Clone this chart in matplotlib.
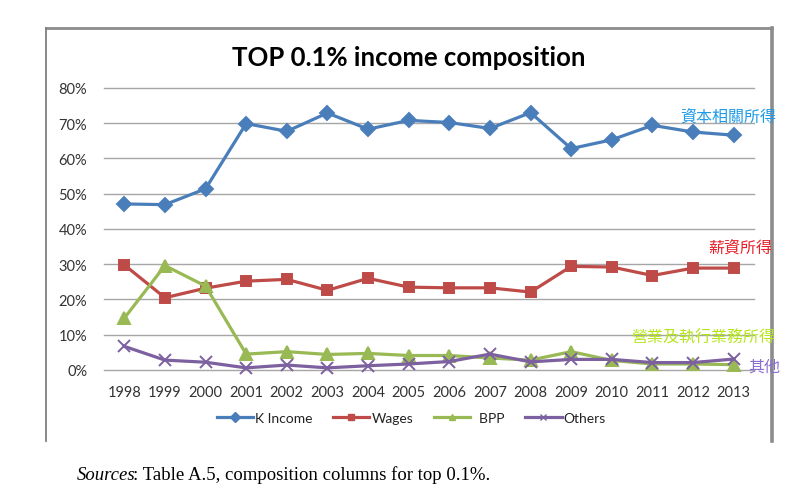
import matplotlib.pyplot as plt
from matplotlib.lines import Line2D
import numpy as np

plt.rcParams['font.family'] = ['Lato', 'DejaVu Sans']

# valores (fração da renda do top 0.1%)
anos = ["1998", "1999", "2000", "2001", "2002", "2003", "2004", "2005",
        "2006", "2007", "2008", "2009", "2010", "2011", "2012", "2013"]
k_income = [47.1, 46.9, 51.4, 69.9, 67.7, 72.9, 68.3, 70.8,
            70.2, 68.5, 73.0, 62.8, 65.3, 69.4, 67.5, 66.6]
wages = [29.8, 20.5, 23.2, 25.2, 25.7, 22.6, 26.0, 23.5,
         23.3, 23.3, 22.1, 29.4, 29.2, 26.8, 28.9, 28.9]
bpp = [14.7, 29.6, 23.8, 4.5, 5.2, 4.4, 4.7, 4.1,
       4.1, 3.4, 2.8, 5.2, 2.7, 1.7, 1.7, 1.5]
others = [6.7, 2.8, 2.2, 0.6, 1.4, 0.6, 1.2, 1.7,
          2.4, 4.5, 2.3, 3.0, 3.0, 2.1, 2.1, 3.1]

nomes = ["K Income", "Wages", "BPP", "Others"]
rotulos_cn = ["資本相關所得", "薪資所得", "營業及執行業務所得", "其他"]
cores = ["#4A7EBB", "#BE4B48", "#98B954", "#7D60A0"]
cores_cn = ["#1E9BE8", "#E8202A", "#B5E61D", "#8A6FD0"]
marcadores = ["D", "s", "^", "x"]

x = np.arange(len(anos))
fig = plt.figure(figsize=(8, 5.02), dpi=100)
ax = fig.add_axes([0.13, 0.261, 0.8125, 0.5618])

series = [k_income, wages, bpp, others]
tamanhos = [7.5, 7.5, 8.5, 8]
for serie, nome, cor, m, ms in zip(series, nomes, cores, marcadores, tamanhos):
    ax.plot(x, np.array(serie) / 100, color=cor, lw=2.3, marker=m, ms=ms,
            mew=1.4, label=nome, zorder=3, clip_on=False)

ax.set_xlim(-0.5, len(anos) - 0.5)
ax.set_ylim(0, 0.8)
ax.set_yticks(np.arange(0, 0.81, 0.1))
ax.set_yticklabels([f"{int(round(v * 100))}%" for v in np.arange(0, 0.81, 0.1)])
ax.set_xticks(x)
ax.set_xticklabels(anos)
ax.tick_params(length=0, labelsize=10.5, colors="#333333")
ax.tick_params(axis="y", pad=12)
ax.tick_params(axis="x", pad=11)
ax.yaxis.grid(True, color="#A6A6A6", lw=1)
for g in ax.get_ygridlines():
    g.set_clip_on(False)
ax.set_axisbelow(True)
for s in ax.spines.values():
    s.set_visible(False)

fig.text(0.511, 0.884, "TOP 0.1% income composition", ha="center", va="center",
         fontsize=18.5, fontweight="bold")

# rótulos em chinês à direita
pos_cn = [(0.97, 0.767), (0.965, 0.506), (0.969, 0.327), (0.975, 0.268)]
for txt, cor, (px, py) in zip(rotulos_cn, cores_cn, pos_cn):
    fig.text(px, py, txt, color=cor, fontsize=11.5, ha="right", va="center",
             family=["Noto Sans CJK TC", "DejaVu Sans"])

handles = [Line2D([], [], color=c, lw=2.3, marker=m, ms=5) for c, m in zip(cores, marcadores)]
leg = fig.legend(handles, ["K Income", "Wages", "  BPP", "Others"], loc="center",
                 bbox_to_anchor=(0.514, 0.165), ncol=4, frameon=False, fontsize=10,
                 handlelength=2.6, handletextpad=0.15, columnspacing=1.5)
for t in leg.get_texts():
    t.set_color("#222222")

# moldura do gráfico
fig.add_artist(Line2D([46 / 800, 772 / 800], [1 - 28.5 / 502] * 2, color="#8C8C8C", lw=2))
fig.add_artist(Line2D([46 / 800] * 2, [1 - 28.5 / 502, 1 - 442 / 502], color="#7F7F7F", lw=1.3))
fig.add_artist(Line2D([772 / 800] * 2, [1 - 28.5 / 502, 1 - 442 / 502], color="#8C8C8C", lw=2.6))

t1 = fig.text(77 / 800, 1 - 475 / 502, "Sources", style="italic", fontsize=13.5,
              family="Liberation Serif", va="center")
r = fig.canvas.get_renderer()
bb = t1.get_window_extent(renderer=r)
fig.text((bb.x1 - 3) / fig.bbox.width, 1 - 475 / 502, ": Table A.5, composition columns for top 0.1%.",
         fontsize=13.5, family="Liberation Serif", va="center")

fig.savefig("out.png", dpi=100)
plt.close(fig)
